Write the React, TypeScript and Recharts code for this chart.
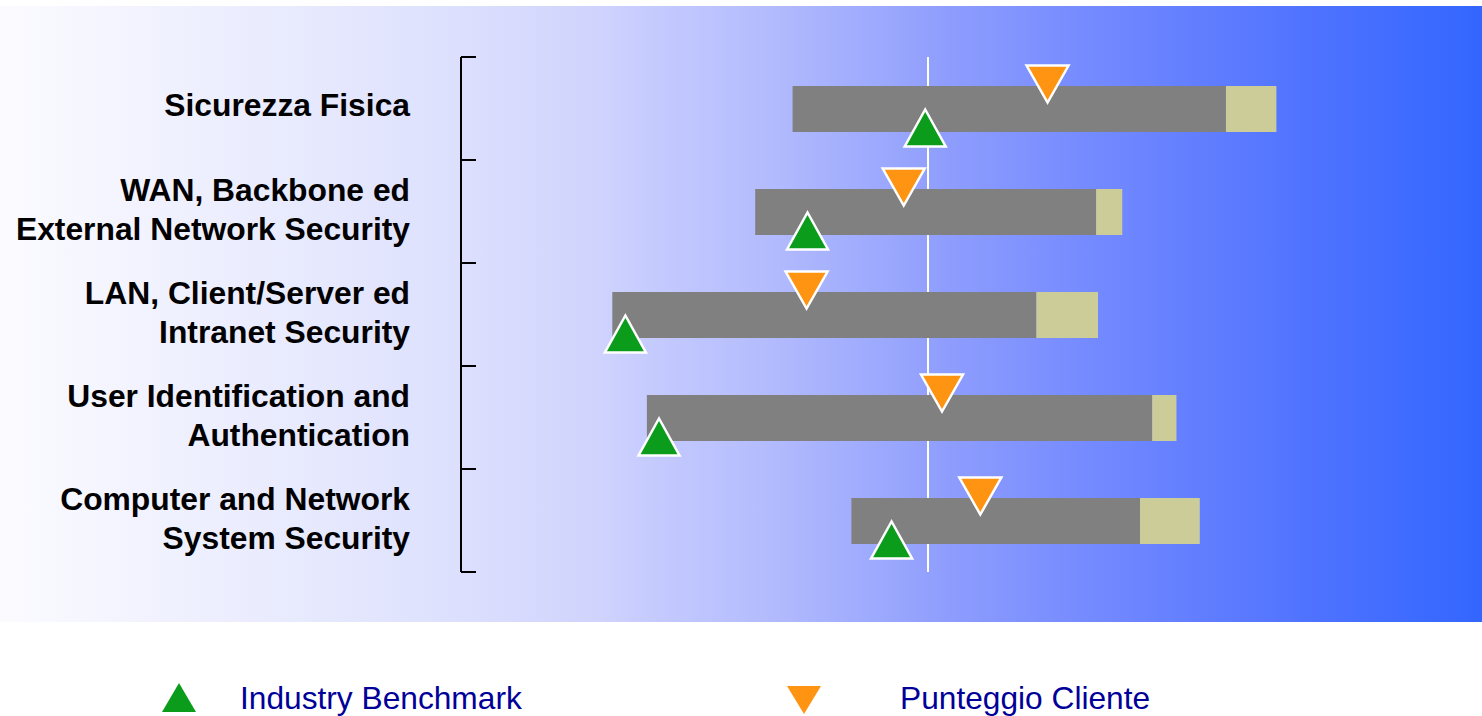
import React from 'react';
import { ComposedChart, Bar, Scatter, XAxis, YAxis, CartesianGrid, Legend } from 'recharts';

// one entry per row, top to bottom
const categories = [
  'Sicurezza Fisica',
  'WAN, Backbone ed\nExternal Network Security',
  'LAN, Client/Server ed\nIntranet Security',
  'User Identification and\nAuthentication',
  'Computer and Network\nSystem Security',
];
const rangeStart = [35.5, 31.5, 16.2, 19.9, 41.8];
const rangeMid = [81.9, 68.0, 61.6, 74.0, 72.7];
const rangeEnd = [87.3, 70.8, 68.2, 76.6, 79.1];
const benchmark = [49.7, 37.1, 17.6, 21.2, 46.1];
const clientScore = [62.8, 47.4, 37.0, 51.5, 55.6];
const midline = [50];

const FONT = '"Liberation Sans", Arial, Helvetica, sans-serif';
const GREEN = '#0c9c1c';
const ORANGE = '#ff9412';

const data = categories.map((name, i) => ({
  name,
  base: rangeStart[i],
  core: rangeMid[i] - rangeStart[i],
  extra: rangeEnd[i] - rangeMid[i],
  benchmark: benchmark[i],
  client: clientScore[i],
}));

const UpMarker = (props: any) => {
  const { cx, cy } = props;
  if (cx == null || cy == null) return null;
  return (
    <polygon
      points={`${cx},${cy + 1} ${cx - 20.5},${cy + 38} ${cx + 20.5},${cy + 38}`}
      fill={GREEN}
      stroke="#fff"
      strokeWidth={2.5}
    />
  );
};

const DownMarker = (props: any) => {
  const { cx, cy } = props;
  if (cx == null || cy == null) return null;
  return (
    <polygon
      points={`${cx - 21},${cy - 43} ${cx + 21},${cy - 43} ${cx},${cy - 6}`}
      fill={ORANGE}
      stroke="#fff"
      strokeWidth={2.5}
    />
  );
};

const CategoryTick = (props: any) => {
  const { x, y, payload } = props;
  const lines = String(payload.value).split('\n');
  const first = lines.length === 1 ? 7.5 : -10.5;
  return (
    <text x={x} y={y} textAnchor="end" fontFamily={FONT} fontWeight="bold" fontSize={31.8} fill="#000">
      {lines.map((line, i) => (
        <tspan key={i} x={x} y={y + first + i * 38.5}>
          {line}
        </tspan>
      ))}
    </text>
  );
};

// bracket ticks sit on the band edges, not on the band centres
const BracketTick = (props: any) => {
  const { x, y, payload, index, visibleTicksCount } = props;
  const half = payload && payload.offset ? payload.offset : 51.5;
  const isLast = index === visibleTicksCount - 1;
  return (
    <g>
      <line x1={x} x2={x + 15} y1={y - half} y2={y - half} stroke="#000" strokeWidth={2} />
      {isLast && <line x1={x} x2={x + 15} y1={y + half} y2={y + half} stroke="#000" strokeWidth={2} />}
    </g>
  );
};

const LegendRow = () => (
  <svg width={1482} height={44} style={{ display: 'block' }}>
    <polygon points="179,11 162,40 196,40" fill={GREEN} />
    <text x={240} y={37} fontFamily={FONT} fontSize={31.7} fill="#000099">
      Industry Benchmark
    </text>
    <polygon points="787,14 821,14 804,42" fill={ORANGE} />
    <text x={900} y={37} fontFamily={FONT} fontSize={31.7} fill="#000099">
      Punteggio Cliente
    </text>
  </svg>
);

export default function App() {
  return (
    <div style={{ position: 'relative', width: 1482, height: 716, overflow: 'hidden' }}>
      <style>{'body{margin:0;overflow:hidden}'}</style>
      <div
        style={{
          position: 'absolute',
          left: 0,
          top: 6,
          width: 1482,
          height: 616,
          background:
            'linear-gradient(to right, #fbfbff 0%, #dfe2fd 29%, #d0d4fd 40%, #c8cdfe 43%, #b0b9fd 53%, #8e9dfd 64%, #7389ff 74%, #5073ff 88%, #3366ff 100%)',
        }}
      />
      <ComposedChart
        width={1482}
        height={716}
        data={data}
        layout="vertical"
        margin={{ top: 57, right: 87, bottom: 144, left: 0 }}
        style={{ position: 'absolute', left: 0, top: 0 }}
      >
        <CartesianGrid horizontal={false} syncWithTicks verticalValues={midline} stroke="#fff" strokeWidth={2} />
        <XAxis type="number" domain={[0, 100]} ticks={midline} hide />
        <YAxis
          type="category"
          dataKey="name"
          width={461}
          axisLine={{ stroke: '#000', strokeWidth: 2 }}
          tickLine={false}
          tickSize={0}
          tickMargin={51}
          tick={<CategoryTick />}
          interval={0}
        />
        <YAxis
          yAxisId="frame"
          type="category"
          dataKey="name"
          mirror
          axisLine={false}
          tickLine={false}
          tickSize={0}
          tickMargin={0}
          tick={<BracketTick />}
          interval={0}
        />
        <Bar dataKey="base" stackId="r" fill="transparent" barSize={46} isAnimationActive={false} legendType="none" />
        <Bar dataKey="core" stackId="r" fill="#808080" barSize={46} isAnimationActive={false} legendType="none" />
        <Bar dataKey="extra" stackId="r" fill="#cccc99" barSize={46} isAnimationActive={false} legendType="none" />
        <Scatter name="Industry Benchmark" dataKey="benchmark" shape={<UpMarker />} isAnimationActive={false} />
        <Scatter name="Punteggio Cliente" dataKey="client" shape={<DownMarker />} isAnimationActive={false} />
        <Legend
          layout="horizontal"
          verticalAlign="middle"
          align="center"
          content={() => <LegendRow />}
          wrapperStyle={{ position: 'absolute', left: 0, top: 672, width: 1482, height: 44 }}
        />
      </ComposedChart>
    </div>
  );
}
